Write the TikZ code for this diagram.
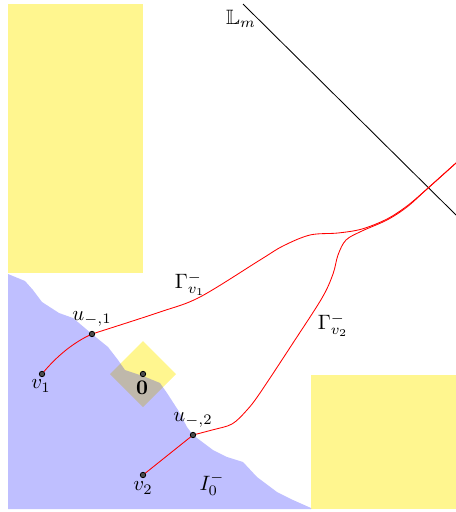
\documentclass[tikz,border=0pt]{standalone}
\usepackage{amssymb}
\definecolor{paleyellow}{RGB}{255,246,143}
\pgfdeclarelayer{front}
\pgfsetlayers{main,front}
\tikzset{
  dotnode/.style={circle,fill=black!70,draw=black,line width=0.4pt,inner sep=0pt,minimum size=2.9pt},
  redcurve/.style={red,line width=0.45pt},
  yellowfill/.style={fill=paleyellow},
  bluefill/.style={fill=blue,fill opacity=0.25},
  lbl/.style={inner sep=0pt,scale=1.1}
}
\begin{document}
\begin{tikzpicture}[x=0.0186cm,y=-0.0186cm]
\useasboundingbox (0,0) rectangle (456,512);
% yellow rectangles
\fill[yellowfill] (8,4) rectangle (143,273);
\fill[yellowfill] (311,375) rectangle (456,509);
% yellow diamond
\fill[yellowfill] (143,341) -- (176,374) -- (143,407) -- (110,374) -- cycle;
% blue region
\fill[bluefill] (8,274) -- (25,281) -- (33,290) -- (42,302) -- (59,313) -- (73,318)
  -- (92,334) -- (108,347) -- (118,360) -- (125,370) -- (143,376) -- (160,383)
  -- (167,393) -- (178,410) -- (187,427) -- (193,435) -- (213,450) -- (227,457)
  -- (243,462) -- (257,477) -- (277,492) -- (293,500) -- (311,508) -- (311,509)
  -- (8,509) -- cycle;
% line L_m
\coordinate (L1) at (243,4);
\coordinate (L2) at (456,215);
\draw[black,line width=0.45pt] (L1) -- (L2);
\node[lbl] (Lm) at (241,19) {$\mathbb{L}_m$};
% points (dots on the front layer)
\begin{pgfonlayer}{front}
\node[dotnode] (v1) at (42,374) {};
\node[dotnode] (u1) at (92,334) {};
\node[dotnode] (v2) at (143,475) {};
\node[dotnode] (u2) at (193,435) {};
\node[dotnode] (o) at (143,374) {};
\end{pgfonlayer}
\coordinate (E) at (456,163);
% curves
\draw[redcurve] (v1.center) .. controls (55,358) and (72,343) .. (u1.center);
\draw[redcurve] (v2.center) -- (u2.center);
\draw[redcurve] plot[smooth,tension=0.55] coordinates {(u1.center) (160,312) (200,297) (260,260) (283,246) (310,235) (338,233) (362,229) (387,219) (407,206) (427,189) (E)};
\draw[redcurve] plot[smooth,tension=0.55] coordinates {(u2.center) (212,430) (232,424) (247,410) (260,393) (293,343) (322,298) (333,274) (338,255) (346,240) (362,231) (387,220) (407,207) (427,189) (E)};
% labels
\node[lbl] (lv1) at (41,386) {$v_1$};
\node[lbl] (lv2) at (143,488) {$v_2$};
\node[lbl] (lu1) at (92,319) {$u_{-,1}$};
\node[lbl] (lu2) at (193,420) {$u_{-,2}$};
\node[lbl] (lo) at (142,388) {$\mathbf{0}$};
\node[lbl] (g1) at (190,284) {$\Gamma^-_{v_1}$};
\node[lbl] (g2) at (333,325) {$\Gamma^-_{v_2}$};
\node[lbl] (I0) at (212,484) {$I_0^-$};
\end{tikzpicture}
\end{document}
